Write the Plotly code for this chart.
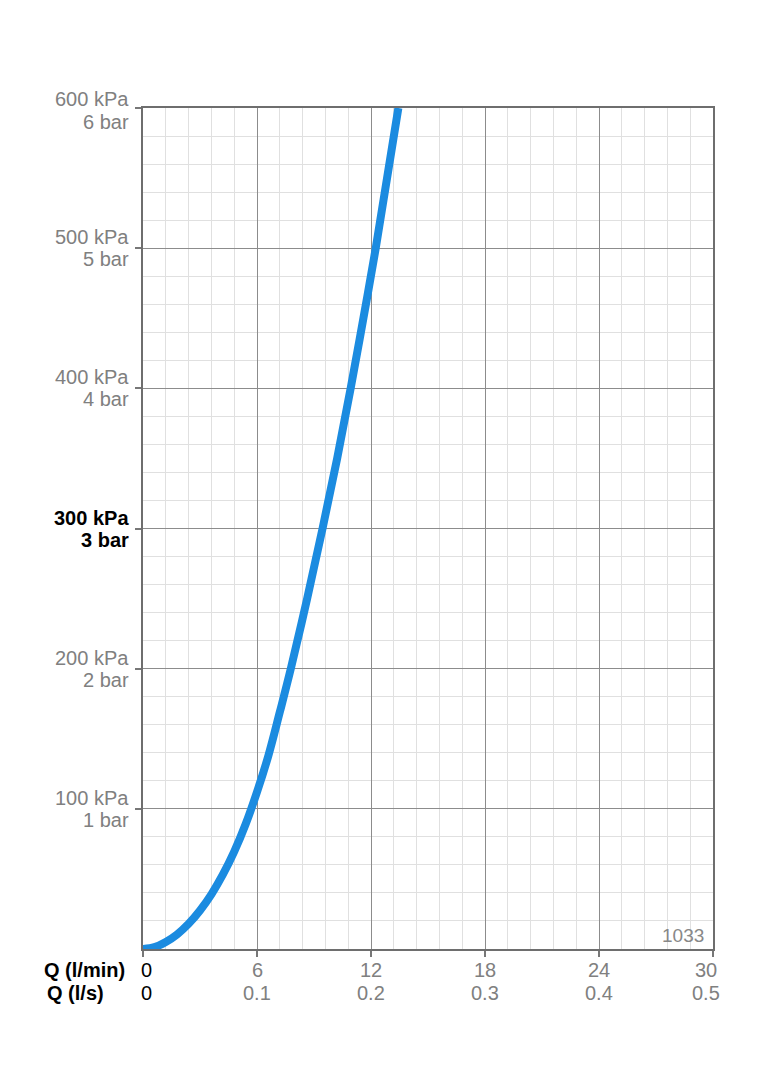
import plotly.graph_objects as go

# Flow rate Q (l/min) and pressure loss (kPa)
flow_lpm = [0, 0.6, 1.2, 1.8, 2.4, 3.0, 3.6, 4.2, 4.8, 5.4, 6.0, 6.6, 7.2, 7.78,
            8.64, 9.45, 10.22, 10.93, 11.60, 12.25, 13.44]
pressure_kpa = [0, 1.3, 5.0, 10.5, 18.0, 27.5, 39, 53, 69.5, 89, 112, 138, 169, 200,
                250, 300, 350, 400, 450, 500, 600]

y_ticks = [100, 200, 300, 400, 500, 600]
y_kpa_labels = ["100 kPa", "200 kPa", "300 kPa", "400 kPa", "500 kPa", "600 kPa"]
y_bar_labels = ["1 bar", "2 bar", "3 bar", "4 bar", "5 bar", "6 bar"]
x_ticks = [0, 6, 12, 18, 24, 30]
x_lpm_labels = ["0", "6", "12", "18", "24", "30"]
x_lps_labels = ["0", "0.1", "0.2", "0.3", "0.4", "0.5"]
chart_code = "1033"

FONT = "Liberation Sans, Arial, Helvetica, sans-serif"
GRAY = "#808080"
FS = 20

fig = go.Figure()
fig.add_trace(go.Scatter(
    x=flow_lpm, y=pressure_kpa, mode="lines",
    line=dict(color="#1B8BE0", width=8, shape="spline", smoothing=1.0),
    hoverinfo="skip", showlegend=False,
))

fig.update_layout(
    width=764, height=1080,
    margin=dict(l=135, r=59, t=100, b=139),
    paper_bgcolor="white", plot_bgcolor="white",
    font=dict(family=FONT, size=FS, color=GRAY),
    xaxis=dict(
        range=[0, 30], tickvals=x_ticks, showticklabels=False,
        ticks="outside", ticklen=6, tickcolor="#777", tickwidth=1.5,
        showgrid=True, gridcolor="#8c8c8c", gridwidth=1.2,
        minor=dict(dtick=1.2, tick0=0, showgrid=True, gridcolor="#e0e0e0", gridwidth=1.2),
        showline=True, linecolor="#6e6e6e", linewidth=1.8, mirror=True,
        zeroline=False, fixedrange=True,
    ),
    yaxis=dict(
        range=[0, 600], tickvals=y_ticks, showticklabels=False,
        ticks="outside", ticklen=6, tickcolor="#777", tickwidth=1.5,
        showgrid=True, gridcolor="#8c8c8c", gridwidth=1.2,
        minor=dict(dtick=20, tick0=0, showgrid=True, gridcolor="#e0e0e0", gridwidth=1.2),
        showline=True, linecolor="#6e6e6e", linewidth=1.8, mirror=True,
        zeroline=False, fixedrange=True,
    ),
)

ann = []
for v, k, b in zip(y_ticks, y_kpa_labels, y_bar_labels):
    if v == 300:
        k_txt, b_txt, col = f"<b>{k}</b>", f"<b>{b}</b>", "black"
    else:
        k_txt, b_txt, col = k, b, GRAY
    up, down = (9, -14) if v == 600 else (11, -11)
    for txt, ys in ((k_txt, up), (b_txt, down)):
        ann.append(dict(x=0, xref="paper", y=v, yref="y", text=txt, showarrow=False,
                        xanchor="right", yanchor="middle", align="right",
                        xshift=-12, yshift=ys, font=dict(size=FS, color=col, family=FONT)))

for v, l1, l2 in zip(x_ticks, x_lpm_labels, x_lps_labels):
    col = "black" if v == 0 else GRAY
    xs = 3 if v == 0 else (-7 if v == 30 else 0)
    ann.append(dict(x=v, xref="x", y=0, yref="paper", text=l1, showarrow=False,
                    xanchor="center", yanchor="middle", xshift=xs, yshift=-21,
                    font=dict(size=FS, color=col, family=FONT)))
    ann.append(dict(x=v, xref="x", y=0, yref="paper", text=l2, showarrow=False,
                    xanchor="center", yanchor="middle", xshift=xs, yshift=-44,
                    font=dict(size=FS, color=col, family=FONT)))

ann.append(dict(x=0, xref="paper", y=0, yref="paper", text="<b>Q (l/min)</b>", showarrow=False,
                xanchor="left", yanchor="middle", xshift=-101, yshift=-21,
                font=dict(size=FS, color="black", family=FONT)))
ann.append(dict(x=0, xref="paper", y=0, yref="paper", text="<b>Q (l/s)</b>", showarrow=False,
                xanchor="left", yanchor="middle", xshift=-98, yshift=-44,
                font=dict(size=FS, color="black", family=FONT)))
ann.append(dict(x=30, xref="x", y=0, yref="y", text=chart_code, showarrow=False,
                xanchor="right", yanchor="middle", xshift=-7, yshift=14,
                font=dict(size=FS - 1, color="#888", family=FONT)))

fig.update_layout(annotations=ann)
fig.write_html("out.html")
